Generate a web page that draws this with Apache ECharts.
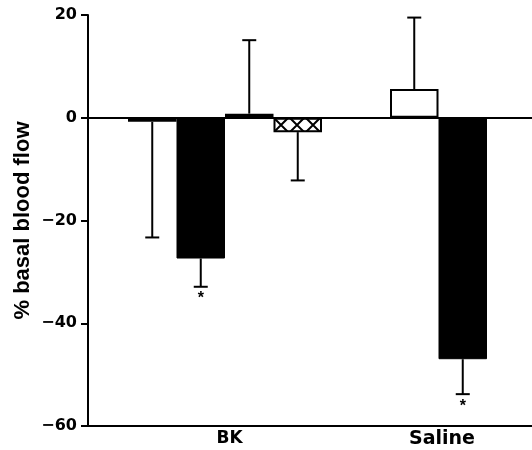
<!DOCTYPE html>
<html>
<head>
<meta charset="utf-8">
<script src="https://cdn.jsdelivr.net/npm/echarts@6/dist/echarts.min.js"></script>
<style>
  html, body { margin: 0; padding: 0; background: #fff; }
  #chart { width: 532px; height: 450px; }
</style>
</head>
<body>
<div id="chart"></div>
<script>
// group labels on the x axis
const groups = ['BK', 'Saline'];
// BK group: open, filled, open, cross-hatched
const bkValues = [-0.8, -27.4, 0.8, -2.8];
const bkSem = [22.5, 5.5, 14.3, 9.4];
const bkSig = [false, true, false, false];
// Saline group: open, filled
const salineValues = [5.6, -47.0];
const salineSem = [13.9, 6.8];
const salineSig = [false, true];
// y axis ticks
const yTicks = [-60, -40, -20, 0, 20];

const FONT = '"Liberation Sans", Arial, sans-serif';
const WIDE = '"DejaVu Sans", sans-serif';
const BAR_W = 48.5;

// cross-hatch tile
const makeHatch = () => {
    const c = document.createElement('canvas');
    c.width = 16;
    c.height = 16;
    const ctx = c.getContext('2d');
    ctx.fillStyle = '#fff';
    ctx.fillRect(0, 0, 16, 16);
    ctx.strokeStyle = '#000';
    ctx.lineWidth = 2;
    // crossing point near (9, 13), lines wrapped across the tile
    for (let k = -1; k <= 1; k++) {
        const oy = k * 16;
        ctx.beginPath();
        ctx.moveTo(-8, 13 - 17 + oy);
        ctx.lineTo(24, 13 + 15 + oy);
        ctx.moveTo(-8, 13 + 17 + oy);
        ctx.lineTo(24, 13 - 15 + oy);
        ctx.stroke();
    }
    return c;
};

const openStyle = { color: '#fff', borderColor: '#000', borderWidth: 2 };
const filledStyle = { color: '#000', borderColor: '#000', borderWidth: 1 };
const hatchStyle = { color: { image: makeHatch(), repeat: 'repeat' }, borderColor: '#000', borderWidth: 2 };

const bkStyles = [openStyle, filledStyle, openStyle, hatchStyle];
const salineStyles = [openStyle, filledStyle];

const zeroLine = {
    silent: true,
    symbol: ['none', 'none'],
    label: { show: false },
    lineStyle: { color: '#000', width: 2, type: 'solid' },
    data: [{ yAxis: 0 }],
};

const barSeries = (gridIdx, values, styles) =>
    values.map((v, i) => ({
        name: groups[gridIdx] + ' ' + (i + 1),
        type: 'bar',
        xAxisIndex: gridIdx,
        yAxisIndex: gridIdx,
        barWidth: BAR_W,
        barGap: '0%',
        itemStyle: styles[i],
        data: [v],
        markLine: i === 0 ? zeroLine : undefined,
    }));

// one-sided error bars, drawn away from zero, with a star where significant
const errorSeries = (gridIdx, values, sem, sig) => ({
    type: 'custom',
    xAxisIndex: gridIdx,
    yAxisIndex: gridIdx,
    z: 5,
    silent: true,
    data: values.map((v, i) => [0, v, sem[i], i, sig[i] ? 1 : 0]),
    renderItem: (params, api) => {
        const n = values.length;
        const v = api.value(1);
        const s = api.value(2);
        const slot = api.value(3);
        const dir = v >= 0 ? 1 : -1;
        const start = api.coord([0, v]);
        const end = api.coord([0, v + dir * s]);
        const x = start[0] + (slot - (n - 1) / 2) * BAR_W;
        const line = { stroke: '#000', lineWidth: 2 };
        const children = [
            { type: 'line', shape: { x1: x, y1: start[1], x2: x, y2: end[1] }, style: line },
            { type: 'line', shape: { x1: x - 7, y1: end[1], x2: x + 7, y2: end[1] }, style: line },
        ];
        if (api.value(4)) {
            children.push({
                type: 'text',
                style: { text: '*', x: x, y: end[1] + 4, align: 'center', verticalAlign: 'top', font: 'bold 16px ' + FONT, fill: '#000' },
            });
        }
        return { type: 'group', children: children };
    },
});

// BK and Saline labels are printed at different widths in the original
const xLabelSize = [17, 19];
const xLabelPad = [[0, 0, 0, 9], [0, 0, 0, 7]];

const xAxisFor = (gridIdx) => ({
    type: 'category',
    gridIndex: gridIdx,
    data: [groups[gridIdx]],
    position: 'bottom',
    axisLine: { onZero: false, lineStyle: { color: '#000', width: 2 } },
    axisTick: { show: false },
    axisLabel: {
        color: '#000', fontFamily: WIDE, fontWeight: 'bold',
        fontSize: xLabelSize[gridIdx], margin: 4, padding: xLabelPad[gridIdx],
    },
    splitLine: { show: false },
});

const yAxisFor = (gridIdx) => ({
    type: 'value',
    gridIndex: gridIdx,
    min: yTicks[0],
    max: yTicks[yTicks.length - 1],
    interval: 20,
    show: gridIdx === 0,
    name: gridIdx === 0 ? '% basal blood flow' : '',
    nameLocation: 'middle',
    nameGap: 54,
    nameMoveOverlap: false,
    nameTextStyle: { color: '#000', fontFamily: FONT, fontWeight: 'bold', fontSize: 22 },
    axisLine: { show: true, lineStyle: { color: '#000', width: 2 } },
    axisTick: { show: true, length: 7, lineStyle: { color: '#000', width: 2 } },
    axisLabel: {
        color: '#000', fontFamily: WIDE, fontWeight: 'bold', fontSize: 16, margin: 11,
        formatter: (val) => String(val).replace('-', '\u2212'),
    },
    splitLine: { show: false },
});

const chart = echarts.init(document.getElementById('chart'));
chart.setOption({
    animation: false,
    backgroundColor: '#fff',
    grid: [
        { left: 88, top: 15, width: 274, bottom: 24 },
        { left: 345, top: 15, right: 0, bottom: 24 },
    ],
    xAxis: [xAxisFor(0), xAxisFor(1)],
    yAxis: [yAxisFor(0), yAxisFor(1)],
    series: [
        ...barSeries(0, bkValues, bkStyles),
        ...barSeries(1, salineValues, salineStyles),
        errorSeries(0, bkValues, bkSem, bkSig),
        errorSeries(1, salineValues, salineSem, salineSig),
    ],
});
</script>
</body>
</html>
